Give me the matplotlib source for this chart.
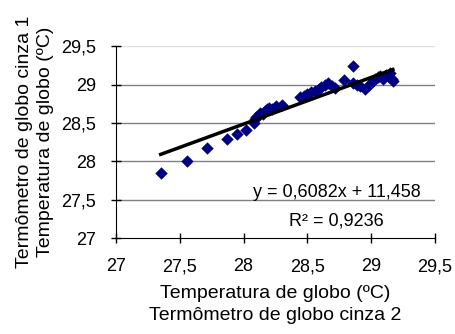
import numpy as np
import matplotlib.pyplot as plt

plt.rcParams['font.family'] = ['Liberation Sans', 'DejaVu Sans']

# globe thermometer 2 (x) vs globe thermometer 1 (y), ºC
temp_cinza2 = [27.35, 27.56, 27.71, 27.87, 27.95, 28.02, 28.08, 28.09, 28.10, 28.12,
               28.13, 28.15, 28.17, 28.18, 28.20, 28.22, 28.25, 28.30, 28.44, 28.47,
               28.50, 28.53, 28.56, 28.59, 28.61, 28.64, 28.66, 28.69, 28.72, 28.79,
               28.86, 28.86, 28.89, 28.91, 28.95, 28.98, 29.01, 29.03, 29.05, 29.07,
               29.09, 29.12, 29.14, 29.16, 29.17, 29.15]
temp_cinza1 = [27.85, 28.01, 28.17, 28.29, 28.36, 28.41, 28.50, 28.55, 28.58, 28.60,
               28.63, 28.62, 28.66, 28.68, 28.70, 28.69, 28.72, 28.74, 28.84, 28.86,
               28.88, 28.91, 28.92, 28.95, 28.97, 29.00, 29.02, 28.98, 28.96, 29.06,
               29.25, 29.02, 29.00, 28.98, 28.95, 29.00, 29.03, 29.07, 29.10, 29.11,
               29.08, 29.13, 29.10, 29.08, 29.05, 29.15]

slope = 0.6082
intercept = 11.458
r2 = 0.9236

ticks = [27, 27.5, 28, 28.5, 29, 29.5]
tick_labels = ['27', '27,5', '28', '28,5', '29', '29,5']

fig = plt.figure(figsize=(4.55, 3.34), dpi=100)
ax = fig.add_axes([0.255, 0.287, 0.701, 0.574])

for t in ticks[1:-1]:
    ax.axhline(t, color='#808080', lw=1, zorder=0)
ax.axhline(29.5, color='#e0e0e0', lw=1, zorder=0)

ax.scatter(temp_cinza2, temp_cinza1, marker='D', s=40, color='#000080', zorder=2,
           linewidths=0)

xs = np.array([min(temp_cinza2), max(temp_cinza2)])
ax.plot(xs, slope * xs + intercept, color='black', lw=2.5, zorder=3)

ax.set_xlim(27, 29.5)
ax.set_ylim(27, 29.5)
ax.set_xticks(ticks)
ax.set_xticklabels(tick_labels)
ax.set_yticks(ticks)
ax.set_yticklabels(tick_labels)
ax.tick_params(direction='inout', length=7, width=1, labelsize=13, pad=11)

for s in ['top', 'right']:
    ax.spines[s].set_visible(False)

ax.text(28.73, 27.60, 'y = 0,6082x + 11,458', ha='center', va='center', fontsize=13)
ax.text(28.73, 27.23, 'R² = 0,9236', ha='center', va='center', fontsize=13)

ax.set_xlabel('Temperatura de globo (ºC)\nTermômetro de globo cinza 2', fontsize=14,
              labelpad=7, linespacing=1.4)
ax.set_ylabel('Termômetro de globo cinza 1\nTemperatura de globo (ºC)', fontsize=14,
              labelpad=5, linespacing=1.3)

fig.savefig('out.png', dpi=100)
